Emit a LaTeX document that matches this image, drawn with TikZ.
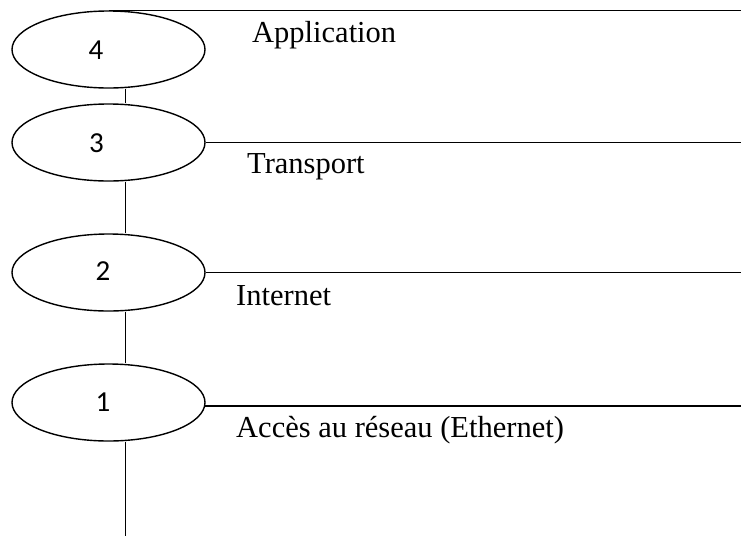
\documentclass[tikz,border=0pt]{standalone}
\usepackage{fontspec}
\setmainfont{Liberation Serif}
\newfontfamily\digitfont{Carlito}
\usetikzlibrary{shapes.geometric}
\begin{document}
\begin{tikzpicture}[x=1pt,y=-1pt,
  layer/.style={ellipse,draw,line width=1.4pt,inner sep=0pt,minimum width=193pt,minimum height=77pt},
  num/.style={inner sep=0pt,font=\digitfont\fontsize{29}{33}\selectfont},
  lbl/.style={anchor=base west,inner sep=0pt,font=\fontsize{30.5}{36}\selectfont},
  ln/.style={line width=1.4pt}]
\useasboundingbox (0,0) rectangle (741,536);
\coordinate (vx) at (125.7,0);
\coordinate (rx) at (741,0);
\coordinate (bot) at (125.7,536);
\node[layer] (e4) at (108.5,49.5) {};
\node[layer] (e3) at (108.5,142.5) {};
\node[layer] (e2) at (108.5,272.5) {};
\node[layer] (e1) at (108.5,402.5) {};
\node[num] (n4) at (96,50) {4};
\node[num] (n3) at (96.5,143) {3};
\node[num] (n2) at (103,271.5) {2};
\node[num] (n1) at (103,402.5) {1};
\node[lbl] (t4) at (252,42) {Application};
\node[lbl] (t3) at (247,173) {Transport};
\node[lbl] (t2) at (236,305) {Internet};
\node[lbl] (t1) at (236,437) {Accès au réseau (Ethernet)};
\draw[ln] (e4.north) -- (e4.north -| rx);
\draw[ln] (e3.-0.7) -- (e3.-0.7 -| rx);
\draw[ln] (e2.-0.9) -- (e2.-0.9 -| rx);
\draw[ln] (e1.-2.7) -- (e1.-2.7 -| rx);
\draw[ln] (e4.south -| vx) -- (e3.north -| vx);
\draw[ln] (e3.south -| vx) -- (e2.north -| vx);
\draw[ln] (e2.south -| vx) -- (e1.north -| vx);
\draw[ln] (e1.south -| vx) -- (bot);
\end{tikzpicture}
\end{document}
